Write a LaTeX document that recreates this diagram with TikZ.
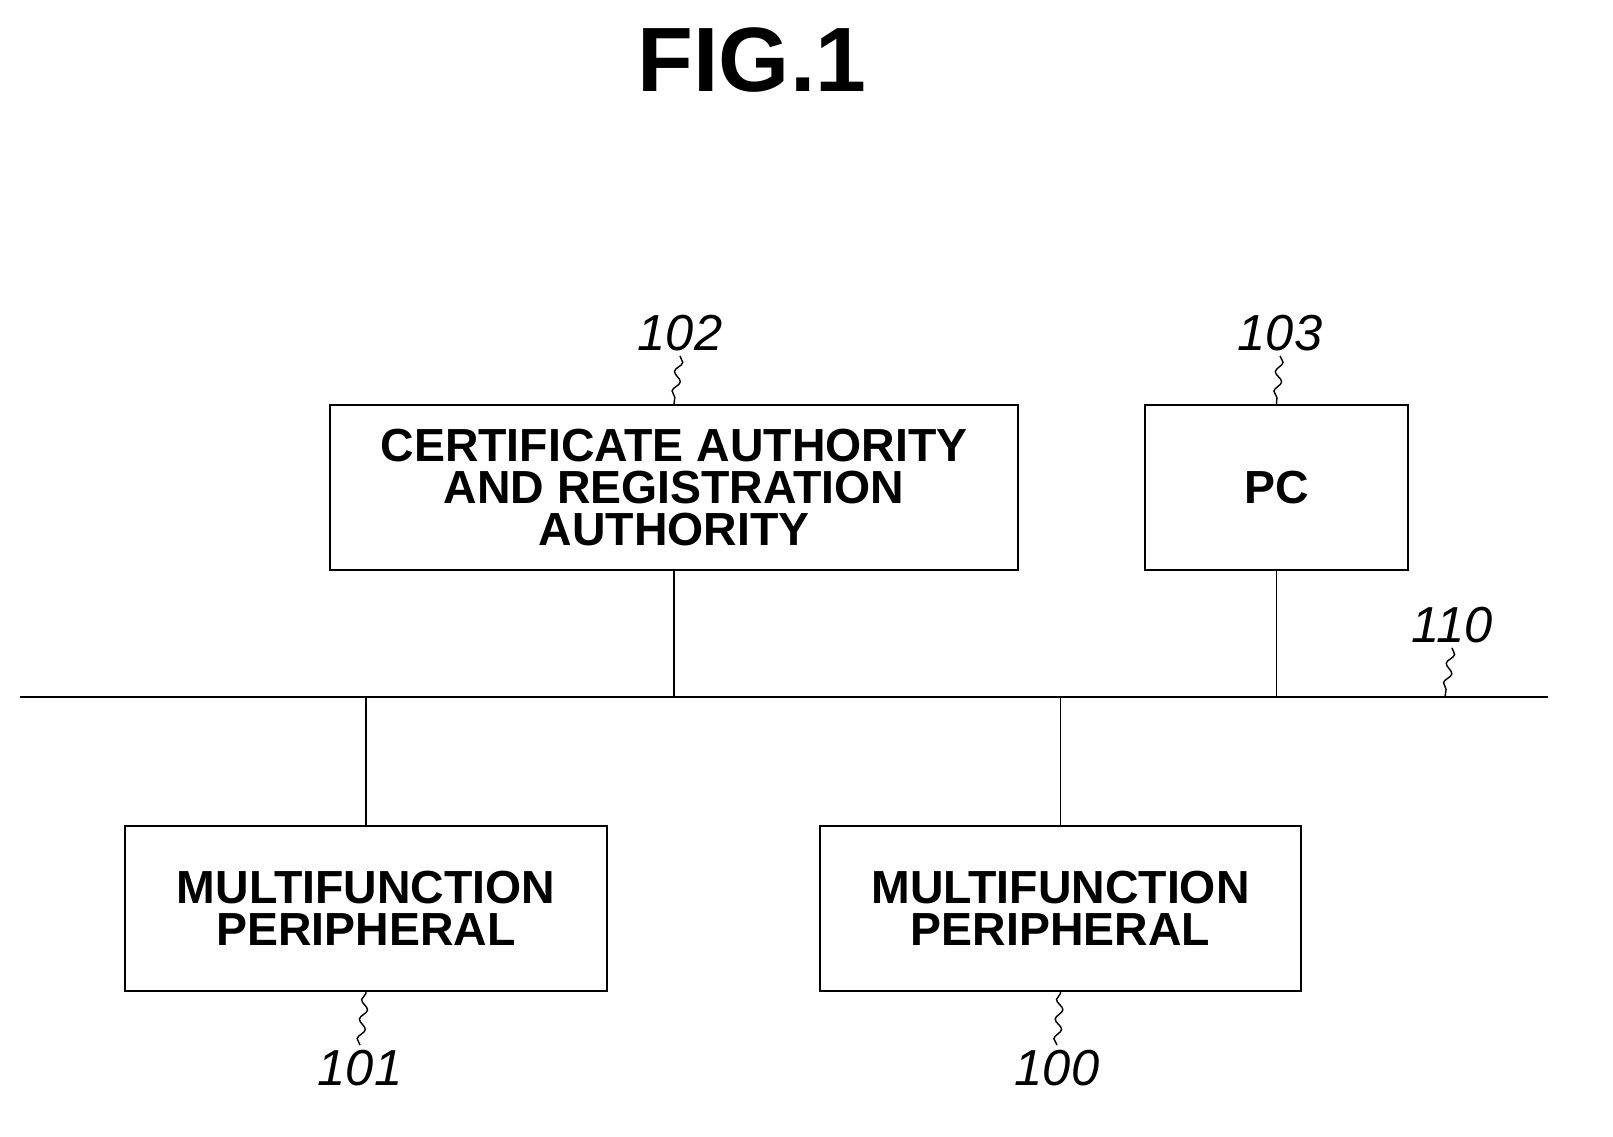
\documentclass[tikz,border=0pt]{standalone}
\usepackage{fontspec}
\setmainfont{Liberation Sans}
\usetikzlibrary{decorations.pathmorphing}
\begin{document}
\begin{tikzpicture}[x=0.025cm,y=-0.025cm,
        unit/.style={draw,line width=1.6pt,inner sep=0pt,
            font=\fontsize{33}{30}\selectfont\bfseries,align=center},
        tag/.style={font=\fontsize{36}{40}\selectfont\itshape},
        link/.style={line width=1.2pt},
        lead/.style={line width=1pt,decorate,
            decoration={snake,amplitude=2.5pt,segment length=14pt}}
    ]
    \useasboundingbox (0,0) rectangle (1613,1137);

    \node[font=\fontsize{65}{65}\selectfont\bfseries] (fig) at (752,60) {FIG.1};

    % boxes
    \node[unit,minimum width=688*0.025cm,minimum height=165*0.025cm] (ca) at (674,487.5)
        {CERTIFICATE AUTHORITY\\AND REGISTRATION\\AUTHORITY};
    \node[unit,minimum width=263*0.025cm,minimum height=165*0.025cm] (pc) at (1276.5,487.5) {PC};
    \node[unit,minimum width=482*0.025cm,minimum height=165*0.025cm] (mfpa) at (366,908.5)
        {MULTIFUNCTION\\PERIPHERAL};
    \node[unit,minimum width=481*0.025cm,minimum height=165*0.025cm] (mfpb) at (1060.5,908.5)
        {MULTIFUNCTION\\PERIPHERAL};

    % network
    \coordinate (busl) at (20,697);
    \coordinate (busr) at (1548,697);
    \draw[line width=2pt] (busl) -- (busr);
    \draw[link] (ca.south) -- (ca.south |- busl);
    \draw[link] (pc.south) -- (pc.south |- busl);
    \draw[link] (mfpa.north) -- (mfpa.north |- busl);
    \draw[link] (mfpb.north) -- (mfpb.north |- busl);

    % reference numerals
    \node[tag] (n102) at (680,333) {102};
    \node[tag] (n103) at (1280,333) {103};
    \node[tag] (n110) at (1452,625) {110};
    \node[tag] (n101) at (360,1068) {101};
    \node[tag] (n100) at (1057,1068) {100};
    \coordinate (bus110) at (1445,697);
    \draw[lead] (n102.south) -- (ca.north);
    \draw[lead] (n103.south) -- (pc.north);
    \draw[lead] (n110.south) -- (bus110);
    \draw[lead] (n101.north) -- (mfpa.south);
    \draw[lead] (n100.north) -- (mfpb.south);
\end{tikzpicture}
\end{document}
